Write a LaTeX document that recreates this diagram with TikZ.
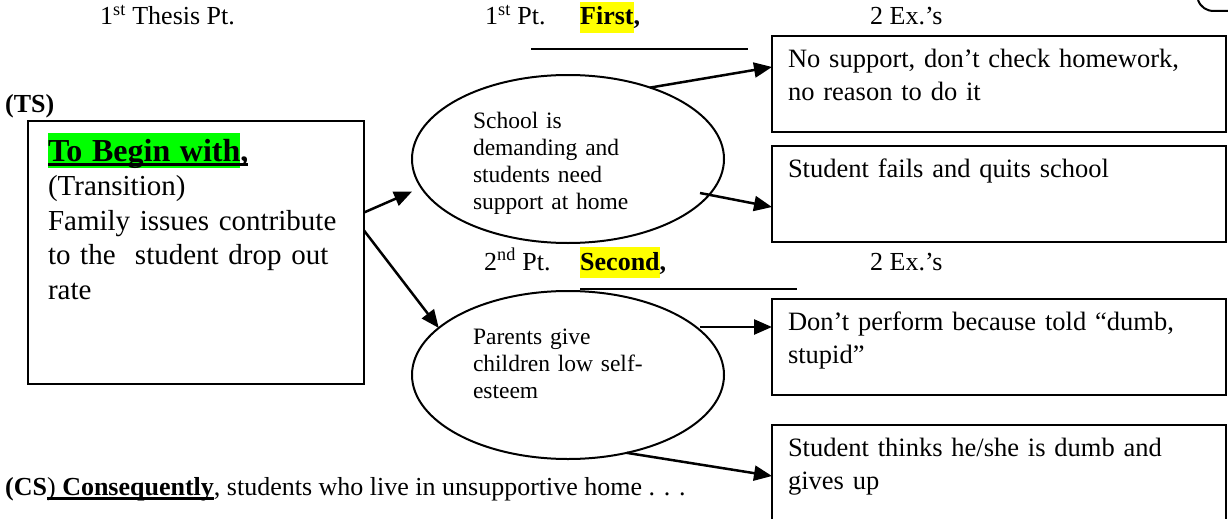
\documentclass[tikz,border=0pt]{standalone}
\usepackage{fontspec}
\setmainfont{Liberation Serif}
\usetikzlibrary{arrows.meta,shapes.geometric}
\definecolor{hlgreen}{HTML}{00FF00}
\definecolor{hlyellow}{HTML}{FFFF00}
\setlength{\fboxsep}{0pt}
\newsavebox\ulsave
\newcommand{\thickul}[1]{\sbox\ulsave{#1}\rlap{\usebox\ulsave}\rule[-5pt]{\wd\ulsave}{3pt}}

\begin{document}
\begin{tikzpicture}[x=1pt,y=-1pt,font=\fontsize{26}{34}\selectfont]
    \tikzstyle{tsbox}=[draw,line width=2.5pt,outer sep=0pt,anchor=north west,text width=296pt,align=left,inner xsep=20pt,inner ysep=12pt,text height=28pt,text depth=211pt,font=\fontsize{29}{34.5}\selectfont]
    \tikzstyle{exbox}=[draw,line width=2.5pt,outer sep=0pt,anchor=north west,text width=422pt,align=left,inner xsep=16pt,inner ysep=13pt,text height=18pt,text depth=52pt,font=\fontsize{26.5}{33}\selectfont]
    \tikzstyle{pointoval}=[ellipse,draw,line width=2pt,outer sep=0pt,minimum width=312pt,minimum height=168pt,text width=190pt,align=left,inner sep=2pt,text height=17pt,text depth=78pt,font=\fontsize{23.5}{27}\selectfont]
    \tikzstyle{heading}=[anchor=base west,inner sep=0pt]
    \tikzstyle{connect}=[-{Triangle[length=18pt,width=15pt]},line width=2.5pt]
    \tikzstyle{blank}=[line width=2pt]

    \useasboundingbox (0,0) rectangle (1228,519);

    \node[heading] (thesispt) at (100,25) {1\textsuperscript{st} Thesis Pt.};
    \node[heading] (firstpt) at (485,25) {1\textsuperscript{st} Pt.};
    \node[heading] (firstword) at (580,25) {\colorbox{hlyellow}{\rule[-8pt]{0pt}{31pt}\textbf{First}}\textbf{,}};
    \node[heading] (exfirst) at (870,25) {2 Ex.’s};
    \draw[blank] (531,49) -- (748,49);

    \node[heading] (tslabel) at (5,112) {\textbf{(TS)}};
    \node[tsbox] (ts) at (28,121) {{\fontsize{32}{34.5}\selectfont\bfseries\thickul{\colorbox{hlgreen}{\rule[-7pt]{0pt}{35pt}To Begin with},}}\\ (Transition)\\ Family issues contribute\\ to the\ \ student drop out\\ rate};

    \node[pointoval] (pt1) at (568,159) {School is\\ demanding and\\ students need\\ support at home};
    \node[pointoval] (pt2) at (568,375) {Parents give\\ children low self-\\ esteem};

    \node[heading] (secondpt) at (484,270) {2\textsuperscript{nd} Pt.};
    \node[heading] (secondword) at (580,270) {\colorbox{hlyellow}{\rule[-8pt]{0pt}{31pt}\textbf{Second}}\textbf{,}};
    \node[heading] (exsecond) at (870,270) {2 Ex.’s};
    \draw[blank] (580,289) -- (797,289);

    \node[exbox] (ex1a) at (772,36) {No support, don’t check homework,\\ no reason to do it};
    \node[exbox] (ex1b) at (772,146) {Student fails and quits school};
    \node[exbox] (ex2a) at (772,299) {Don’t perform because told “dumb,\\ stupid”};
    \node[exbox] (ex2b) at (772,425) {Student thinks he/she is dumb and\\ gives up};

    \node[heading] (cslabel) at (5,495) {\textbf{(CS}\thickul{) \textbf{Consequently}}, students who live in unsupportive home . . .};

    \draw[connect,shorten >=10pt] ([yshift=40pt]ts.east) -- (pt1.191);
    \draw[connect] ([yshift=22pt]ts.east) -- (pt2.160);
    \draw[connect] (pt1.41) -- ([yshift=17pt]ex1a.west);
    \draw[connect] ([shift={(132,34)}]pt1.center) -- ([yshift=-13pt]ex1b.west);
    \draw[connect] ([shift={(132,-48)}]pt2.center) -- ([yshift=20pt]ex2a.west);
    \draw[connect] (pt2.307) -- ([yshift=-3pt]ex2b.west);

    \draw[blank] (1198,0) to[out=-70,in=180] (1214,11) -- (1232,11);
\end{tikzpicture}
\end{document}
